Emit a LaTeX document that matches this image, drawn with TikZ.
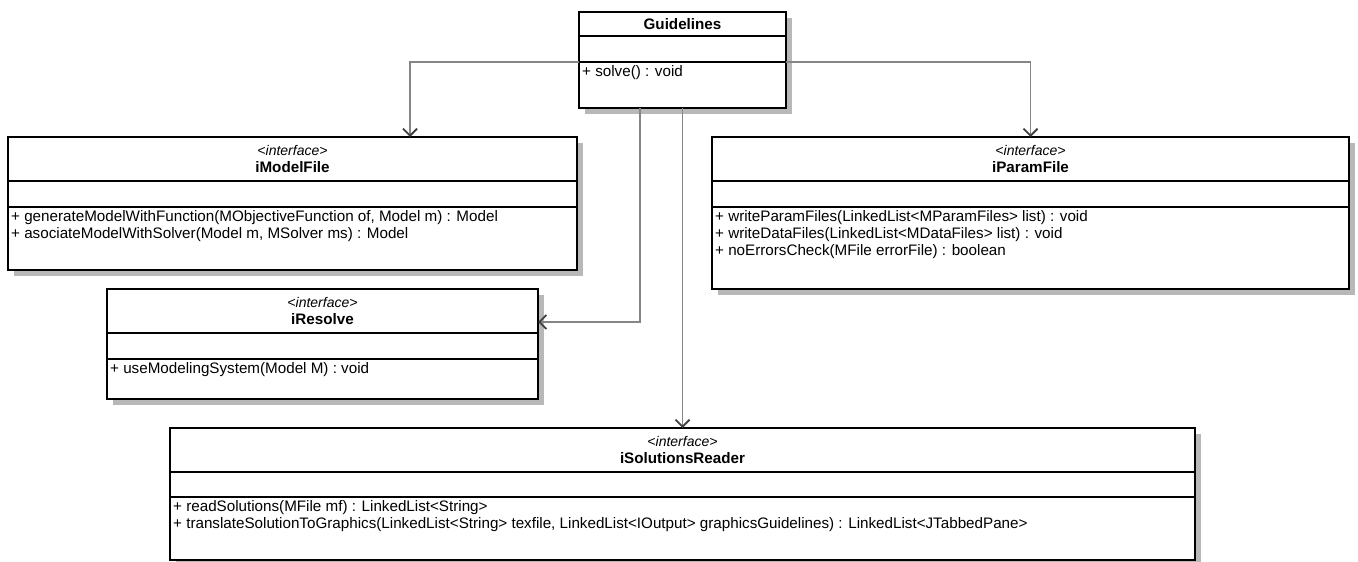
\documentclass[tikz,border=0pt]{standalone}
\usepackage{fontspec}
\setmainfont{Liberation Sans}
\usepackage{xcolor}
\usepackage{tikz}
\usetikzlibrary{arrows.meta,positioning,shadows}
\definecolor{gris}{HTML}{858585}
\definecolor{grisoscuro}{HTML}{404040}
\definecolor{sombra}{HTML}{B8B8B8}
\newcommand{\letra}{\fontsize{15.2}{17}\selectfont}
\newcommand{\interfaz}{{\fontsize{14}{17}\selectfont\itshape <interface>}}
\tikzset{
  caja/.style={draw=black,fill=white,line width=2pt,outer sep=0pt,inner sep=0pt,
    drop shadow={shadow xshift=6pt,shadow yshift=-6pt,fill=sombra,opacity=1}},
  titulo/.style={caja,align=center,font=\letra},
  metodos/.style={anchor=north west,inner sep=0pt,align=left,font=\letra},
  flecha/.style={draw=gris,line width=1.8pt,-{Straight Barb[length=7pt,width=14pt,line width=1.8pt,color=grisoscuro]}},
}

\begin{document}
\begin{tikzpicture}[x=1pt,y=-1pt]
  \useasboundingbox (0,0) rectangle (1358,562);
  % Guidelines
  \node[titulo,minimum width=207pt,minimum height=24pt] (gl) at (682.5,24) {\textbf{Guidelines}};
  \node[caja,minimum width=207pt,minimum height=26pt,below=0pt of gl] (gl-a) {};
  \node[caja,minimum width=207pt,minimum height=46pt,below=0pt of gl-a] (gl-m) {};
  \node[metodos] (gl-t) at ([xshift=3pt,yshift=-2pt]gl-m.north west) {\strut + solve() : void};
  % iModelFile
  \node[titulo,minimum width=569pt,minimum height=44pt] (mf) at (292.5,159) {\interfaz\\\textbf{iModelFile}};
  \node[caja,minimum width=569pt,minimum height=26pt,below=0pt of mf] (mf-a) {};
  \node[caja,minimum width=569pt,minimum height=63pt,below=0pt of mf-a] (mf-m) {};
  \node[metodos] (mf-t) at ([xshift=3pt,yshift=-2pt]mf-m.north west) {\strut + generateModelWithFunction(MObjectiveFunction of, Model m) : Model\\+ asociateModelWithSolver(Model m, MSolver ms) : Model};
  % iParamFile
  \node[titulo,minimum width=637pt,minimum height=44pt] (pf) at (1030.5,159) {\interfaz\\\textbf{iParamFile}};
  \node[caja,minimum width=637pt,minimum height=26pt,below=0pt of pf] (pf-a) {};
  \node[caja,minimum width=637pt,minimum height=82pt,below=0pt of pf-a] (pf-m) {};
  \node[metodos] (pf-t) at ([xshift=3pt,yshift=-2pt]pf-m.north west) {\strut + writeParamFiles(LinkedList<MParamFiles> list) : void\\+ writeDataFiles(LinkedList<MDataFiles> list) : void\\+ noErrorsCheck(MFile errorFile) : boolean};
  % iResolve
  \node[titulo,minimum width=431pt,minimum height=44pt] (rs) at (322.5,311) {\interfaz\\\textbf{iResolve}};
  \node[caja,minimum width=431pt,minimum height=26pt,below=0pt of rs] (rs-a) {};
  \node[caja,minimum width=431pt,minimum height=40pt,below=0pt of rs-a] (rs-m) {};
  \node[metodos] (rs-t) at ([xshift=3pt,yshift=-2pt]rs-m.north west) {\strut + useModelingSystem(Model M) : void};
  % iSolutionsReader
  \node[titulo,minimum width=1025pt,minimum height=44pt] (sr) at (682.5,450) {\interfaz\\\textbf{iSolutionsReader}};
  \node[caja,minimum width=1025pt,minimum height=25pt,below=0pt of sr] (sr-a) {};
  \node[caja,minimum width=1025pt,minimum height=63pt,below=0pt of sr-a] (sr-m) {};
  \node[metodos] (sr-t) at ([xshift=3pt,yshift=-2pt]sr-m.north west) {\strut + readSolutions(MFile mf) : LinkedList<String>\\+ translateSolutionToGraphics(LinkedList<String> texfile, LinkedList<IOutput> graphicsGuidelines) : LinkedList<JTabbedPane>};
  % dependencias
  \draw[flecha] (gl-a.south west) -| ([xshift=117.5pt]mf.north);
  \draw[flecha] (gl-a.south east) -| (pf.north);
  \draw[flecha] ([xshift=-42.5pt]gl-m.south) |- ([yshift=-11pt]rs.east);
  \draw[flecha] (gl-m.south) -- (sr.north);
\end{tikzpicture}
\end{document}
